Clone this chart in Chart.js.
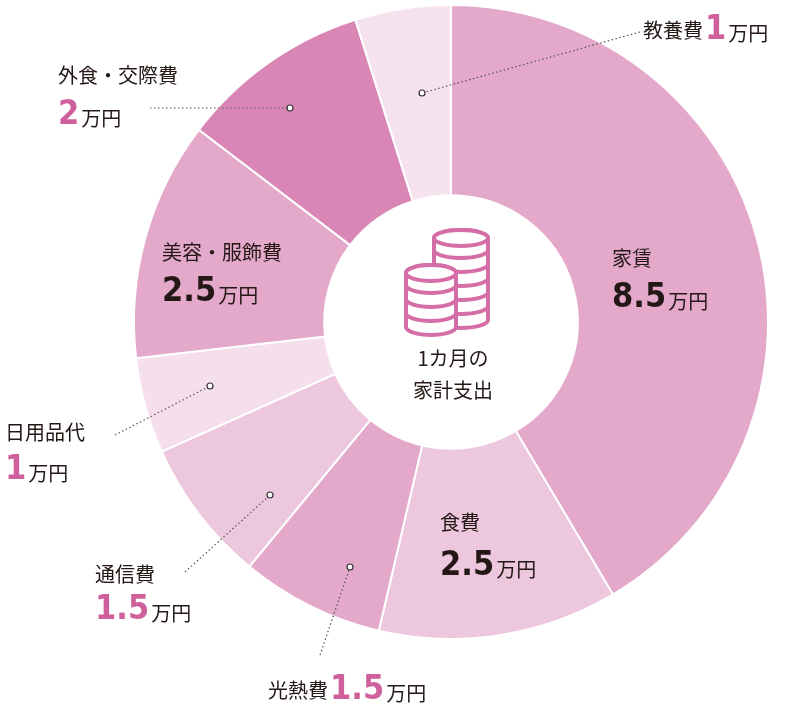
<!DOCTYPE html><html><head><meta charset="utf-8">
<script src="https://cdn.jsdelivr.net/npm/chart.js@4"></script>
<style>body{margin:0;background:#fff}</style></head><body>
<canvas id="c" width="800" height="705"></canvas>
<script>
const categories=["家賃","食費","光熱費","通信費","日用品代","美容・服飾費","外食・交際費","教養費"];
const values=[8.5,2.5,1.5,1.5,1,2.5,2,1];
const valueLabels=["8.5","2.5","1.5","1.5","1","2.5","2","1"];
const colors=["#e3a8ca","#edc7de","#e3a8ca","#edc7de","#f5dfec","#e3a8ca","#d986b6","#f6e2ee"];
const PINK="#d0609c", INK="#231815";
const CJK='"Noto Sans CJK JP"', NUM='"DejaVu Sans Condensed"';
// label layouts: [nameX,nameY,numX,numY,inside,line]
const layout=[
 {nx:612,ny:258,vx:612,vy:298,inside:true},
 {nx:440,ny:522,vx:440,vy:566,inside:true},
 {nx:268,ny:690,vx:null,vy:690,inside:false,line:[320,655,350,567]},
 {nx:95,ny:574,vx:95,vy:610,inside:false,line:[185,572,270,495]},
 {nx:5,ny:432,vx:5,vy:470,inside:false,line:[115,435,210,386]},
 {nx:162,ny:252,vx:162,vy:292,inside:true},
 {nx:58,ny:75,vx:58,vy:115,inside:false,line:[150,108,290,108]},
 {nx:643,ny:30,vx:null,vy:30,inside:false,line:[640,32,422,93]}
];
const labelPlugin={id:'lbl',afterDraw(ch){
 const c=ch.ctx;c.save();
 const meta=ch.getDatasetMeta(0);const cx=meta.data[0].x,cy=meta.data[0].y;
 // center text
 c.fillStyle=INK;c.font='20px '+CJK;c.textAlign='center';c.textBaseline='middle';
 c.fillText("1カ月の",cx+2,cy+36);c.fillText("家計支出",cx+2,cy+68);
 // coins
 c.strokeStyle="#d56ea7";c.lineWidth=4;
 function stack(x,yBottom,n,w){for(let i=0;i<n;i++){const y=yBottom-i*14;c.fillStyle="#fff";c.beginPath();c.ellipse(x,y,w,8,0,0,Math.PI);c.lineTo(x-w,y-12);c.ellipse(x,y-12,w,8,0,Math.PI,0,false);c.closePath();c.fill();c.stroke();}
  const yt=yBottom-(n-1)*14-12;c.beginPath();c.ellipse(x,yt,w,8,0,0,2*Math.PI);c.fill();c.stroke();}
 stack(461,320,6,27);stack(431,327,4,25);
 c.textAlign='left';c.textBaseline='middle';
 layout.forEach((L,i)=>{
  if(L.line){c.strokeStyle="#555";c.lineWidth=1.2;c.setLineDash([1.5,2.5]);c.beginPath();c.moveTo(L.line[0],L.line[1]);c.lineTo(L.line[2],L.line[3]);c.stroke();c.setLineDash([]);
   c.fillStyle="#fff";c.strokeStyle="#333";c.lineWidth=1.2;c.beginPath();c.arc(L.line[2],L.line[3],3,0,2*Math.PI);c.fill();c.stroke();}
  c.fillStyle=INK;c.font='20px '+CJK;c.fillText(categories[i],L.nx,L.ny);
  let x=L.vx;if(x===null)x=L.nx+c.measureText(categories[i]).width+2;
  c.font='bold 34px '+NUM;c.fillStyle=L.inside?INK:PINK;c.fillText(valueLabels[i],x,L.vy);
  x+=c.measureText(valueLabels[i]).width+2;
  c.font='20px '+CJK;c.fillStyle=INK;c.fillText("万円",x,L.vy+3);
 });
 c.restore();}};
new Chart(document.getElementById('c'),{type:'doughnut',
 data:{labels:categories,datasets:[{data:values,backgroundColor:colors,borderColor:"#fff",borderWidth:2}]},
 options:{responsive:false,animation:false,cutout:'40%',
  layout:{padding:{left:133,right:31,top:4,bottom:65}},
  plugins:{legend:{display:false},tooltip:{enabled:false}}},
 plugins:[labelPlugin]});
</script></body></html>
